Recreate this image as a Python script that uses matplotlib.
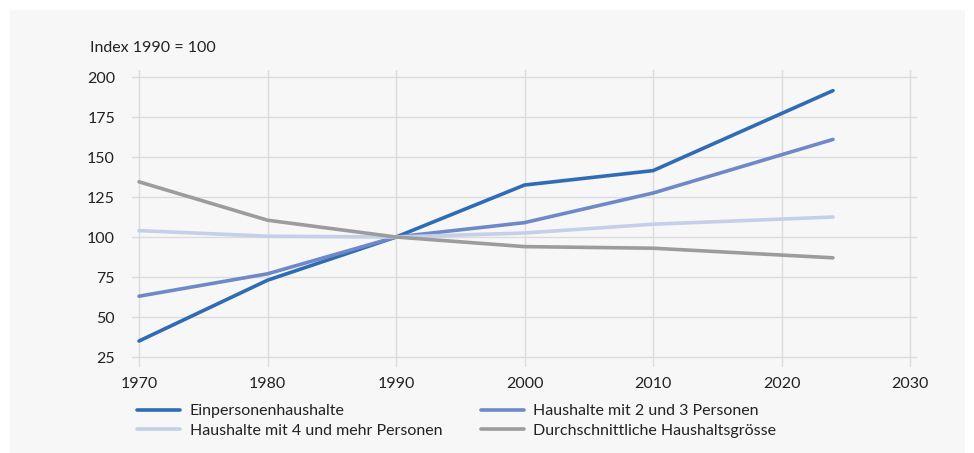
import matplotlib
matplotlib.use("Agg")
import matplotlib.pyplot as plt
from matplotlib.patches import Rectangle

plt.rcParams['font.family'] = ['Lato', 'DejaVu Sans']

# --- Data (Index 1990 = 100) ---
years = [1970, 1980, 1990, 2000, 2010, 2024]
einpersonen = [35, 73, 100, 132.5, 141.5, 191.5]
zwei_drei = [63, 77, 100, 109, 127.5, 161]
vier_mehr = [104, 100.5, 100, 102.5, 108, 112.5]
durchschnitt = [134.5, 110.5, 100, 94, 93, 87]

labels = ["Einpersonenhaushalte", "Haushalte mit 2 und 3 Personen",
          "Haushalte mit 4 und mehr Personen", "Durchschnittliche Haushaltsgrösse"]
colors = ["#2f6cb5", "#6f89c8", "#c6cfea", "#9c9c9f"]

x_ticks = [1970, 1980, 1990, 2000, 2010, 2020, 2030]
y_ticks = [25, 50, 75, 100, 125, 150, 175, 200]

FS = 11.5

# --- Figure ---
fig = plt.figure(figsize=(9.74, 4.53), dpi=100)
fig.patch.set_facecolor("white")
fig.patches.append(Rectangle((10 / 974, 0), 955 / 974, 443 / 453,
                             transform=fig.transFigure, facecolor="#f7f7f7",
                             edgecolor="none", zorder=-5))

ax = fig.add_axes([131.7 / 974, 1 - 367 / 453, (917 - 131.7) / 974, (367 - 70) / 453])
ax.set_facecolor("none")

series = [einpersonen, zwei_drei, vier_mehr, durchschnitt]
lines = []
for vals, lab, col in zip(series, labels, colors):
    ln, = ax.plot(years, vals, color=col, lw=2.6, label=lab,
                  solid_capstyle="round", solid_joinstyle="round", zorder=3)
    lines.append(ln)

ax.set_xlim(1969.43, 2030.54)
ax.set_ylim(18.75, 204.4)
ax.set_xticks(x_ticks)
ax.set_yticks(y_ticks)
ax.grid(True, color="#dcdcdc", lw=1.0)
ax.set_axisbelow(True)
for s in ax.spines.values():
    s.set_visible(False)
ax.tick_params(length=0, labelsize=FS, colors="#222222")
ax.tick_params(axis="y", pad=12)
ax.tick_params(axis="x", pad=7)

fig.text(90 / 974, 1 - 48 / 453, "Index 1990 = 100", fontsize=FS,
         color="#222222", va="center", ha="left")

# legend: row-wise order via column-first fill
order = [0, 2, 1, 3]
leg = fig.legend([lines[i] for i in order], [labels[i] for i in order],
                 loc="upper left", bbox_to_anchor=(137 / 974, 1 - 404 / 453),
                 ncol=2, frameon=False, fontsize=FS, handlelength=2.7,
                 handletextpad=0.6, columnspacing=2.4, labelspacing=0.35,
                 borderaxespad=0, borderpad=0)
for t in leg.get_texts():
    t.set_color("#222222")

fig.savefig("out.png", dpi=100, facecolor=fig.get_facecolor())
